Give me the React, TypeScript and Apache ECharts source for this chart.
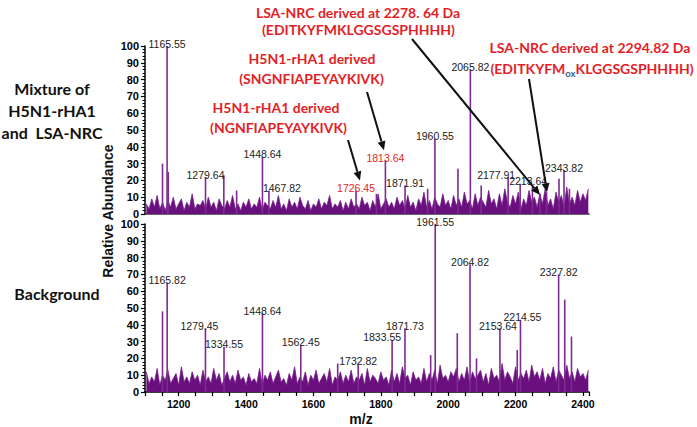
import React, { useEffect, useRef } from "react";
import * as echarts from "echarts";

// ---------- axis ranges ----------
const X_MIN = 1100;
const X_MAX = 2418;
const Y_TICKS = [0, 100];

// ---------- baseline noise (sampled every 8 m/z from 1104) ----------
const NOISE_START = 1104;
const NOISE_STEP = 8;
const noiseTop = [
  6, 3, 9, 4, 11, 3, 7, 2, 8, 4, 10, 3, 6, 9, 2, 7, 4, 12, 3, 6, 5, 8, 3, 10, 4, 7, 2, 9, 5, 3, 8, 4, 11, 3, 6, 2, 7, 4,
  9, 3, 6, 4, 10, 2, 7, 5, 3, 8, 4, 11, 3, 6, 2, 9, 4, 7, 3, 10, 5, 3, 8, 2, 6, 4, 9, 3, 7, 5, 11, 3, 6, 4, 8, 2, 7, 3,
  9, 4, 6, 3, 10, 5, 7, 2, 8, 4, 12, 3, 6, 9, 4, 7, 3, 10, 5, 8, 3, 11, 4, 7, 2, 9, 5, 13, 4, 8, 3, 10, 6, 4, 12, 5, 8, 3,
  11, 5, 9, 4, 13, 6, 8, 3, 12, 5, 10, 7, 4, 14, 6, 9, 3, 12, 5, 15, 7, 4, 11, 6, 13, 3, 9, 5, 14, 7, 10, 4, 12, 6, 15, 5,
  9, 3, 13, 7, 11, 4, 16, 6, 10, 5, 14, 7, 12, 8, 15,
];
const noiseBottom = [
  12, 5, 9, 6, 14, 4, 10, 7, 13, 5, 8, 11, 4, 15, 6, 9, 5, 12, 7, 10, 4, 13, 6, 9, 5, 14, 7, 11, 4, 8, 12, 6, 10, 5, 13, 7, 9, 4,
  11, 6, 8, 5, 14, 4, 10, 7, 12, 5, 9, 13, 6, 8, 4, 11, 7, 15, 5, 9, 6, 12, 4, 10, 7, 13, 5, 8, 11, 6, 14, 4, 9, 7, 12, 5, 10, 6,
  13, 5, 9, 7, 11, 4, 14, 6, 10, 8, 5, 12, 7, 9, 4, 13, 6, 11, 5, 15, 8, 10, 4, 12, 7, 9, 5, 14, 6, 11, 7, 13, 5, 16, 8, 10, 6, 12,
  9, 14, 6, 11, 7, 15, 5, 12, 8, 10, 13, 6, 11, 4, 14, 8, 10, 6, 17, 7, 12, 9, 5, 15, 7, 11, 8, 13, 6, 16, 9, 12, 7, 14, 5, 11,
  8, 15, 6, 13, 10, 7, 16, 8, 12, 6, 14, 9, 11, 7, 13,
];

// ---------- peaks: mixture of H5N1-rHA1 and LSA-NRC ----------
const peaksTopMz = [1152, 1165.55, 1169, 1279.64, 1334, 1372, 1448.64, 1467.82, 1726.45, 1787, 1813.64, 1871.91, 1939, 1960.55, 2029, 2065.82, 2098, 2177.91, 2213.64, 2250, 2272, 2292, 2329, 2343.82, 2360];
const peaksTopHeight = [30, 100, 25, 22, 23, 14, 34, 14, 14, 12, 32, 17, 15, 45, 27, 86, 17, 22, 18, 16, 12, 13, 21, 26, 15];
const peaksTopLabel = ["", "1165.55", "", "1279.64", "", "", "1448.64", "1467.82", "1726.45", "", "1813.64", "1871.91", "", "1960.55", "", "2065.82", "", "2177.91", "2213.64", "", "", "", "", "2343.82", ""];

// ---------- peaks: background ----------
const peaksBottomMz = [1152, 1165.82, 1279.45, 1334.55, 1448.64, 1562.45, 1672, 1732.82, 1833.55, 1871.73, 1948, 1961.55, 2027, 2064.82, 2084, 2153.64, 2205, 2214.55, 2327.82, 2346, 2366];
const peaksBottomHeight = [48, 65, 38, 27, 47, 28, 17, 17, 31, 38, 22, 100, 35, 76, 20, 38, 25, 43, 70, 55, 33];
const peaksBottomLabel = ["", "1165.82", "1279.45", "1334.55", "1448.64", "1562.45", "", "1732.82", "1833.55", "1871.73", "", "1961.55", "", "2064.82", "", "2153.64", "", "2214.55", "2327.82", "", ""];

// label tweaks (style only)
const LABEL_DX: Record<string, number> = { "1467.82": 13, "2177.91": -12, "2213.64": 8, "1279.45": -6, "1833.55": -10, "2153.64": -2, "2214.55": 2 };
const RED_LABELS = ["1726.45", "1813.64"];

// arrow targets in the top panel (m/z, abundance)
const arrowTargets = [
  [1738, 20],
  [1809.5, 38],
  [2272.6, 11.3],
  [2293.3, 13],
];
const arrowStarts = [
  [348, 140],
  [367, 92],
  [412, 39],
  [529, 79],
];

const PURPLE_AREA = "#6a0f7e";
const PURPLE_LINE = "#761d8a";
const PURPLE_PEAK = "#7e2a92";
const RED = "#e41e26";
const LABEL_FONT = "Liberation Sans";
const NOTE_FONT = "Lato";
const NOTE_SIZE = 14;

function noiseData(arr: number[]) {
  return arr.map((v, i) => [NOISE_START + NOISE_STEP * i, v]);
}

function peakData(mz: number[], h: number[], lab: string[]) {
  return mz.map((m, i) => {
    const t = lab[i];
    if (!t) return { value: [m, h[i]], label: { show: false } };
    return {
      value: [m, h[i]],
      label: {
        show: true,
        formatter: t,
        position: "top",
        distance: 0,
        offset: [LABEL_DX[t] || 0, 3],
        color: RED_LABELS.includes(t) ? RED : "#222",
        fontSize: 10.5,
        fontFamily: LABEL_FONT,
      },
    };
  });
}

function yAxis(gridIndex: number) {
  return {
    type: "value",
    gridIndex,
    min: Y_TICKS[0],
    max: Y_TICKS[1],
    interval: 10,
    axisLine: { show: true, lineStyle: { color: "#000", width: 1.5 } },
    axisTick: { show: true, length: 4, lineStyle: { color: "#000", width: 1.2 } },
    minorTick: { show: true, splitNumber: 5, length: 2.5, lineStyle: { color: "#000", width: 1 } },
    axisLabel: { color: "#000", fontWeight: "bold", fontSize: 11, fontFamily: LABEL_FONT, margin: 6 },
    splitLine: { show: false },
  };
}

function xAxis(gridIndex: number, labels: boolean) {
  return {
    type: "value",
    gridIndex,
    min: X_MIN,
    max: X_MAX,
    interval: 100,
    axisLine: { show: true, onZero: false, lineStyle: { color: labels ? "#000" : "#333", width: 1.5 } },
    axisTick: { show: labels, length: 4, lineStyle: { color: "#000", width: 1.2 } },
    minorTick: { show: labels, splitNumber: 2, length: 4, lineStyle: { color: "#000", width: 1.2 } },
    axisLabel: {
      show: labels,
      showMaxLabel: false,
      color: "#000",
      fontWeight: "bold",
      fontSize: 10.5,
      fontFamily: LABEL_FONT,
      margin: 6,
      formatter: (v: number) => (v % 200 === 0 ? String(v) : ""),
    },
    splitLine: { show: false },
  };
}

function arrowEls(x1: number, y1: number, x2: number, y2: number) {
  const dx = x2 - x1;
  const dy = y2 - y1;
  const L = Math.hypot(dx, dy);
  const ux = dx / L;
  const uy = dy / L;
  const hl = 9;
  const hw = 4;
  const bx = x2 - ux * hl;
  const by = y2 - uy * hl;
  return [
    { type: "line", shape: { x1, y1, x2: bx, y2: by }, style: { stroke: "#111", lineWidth: 2 }, z: 100 },
    {
      type: "polygon",
      shape: { points: [[x2, y2], [bx - uy * hw, by + ux * hw], [bx + uy * hw, by - ux * hw]] },
      style: { fill: "#111" },
      z: 100,
    },
  ];
}

function txt(text: string, x: number, y: number, size: number, fill: string, family = NOTE_FONT, extra: any = {}) {
  return {
    type: "text",
    x,
    y,
    z: 100,
    ...extra,
    style: {
      text,
      fill,
      fontFamily: family,
      fontWeight: "bold",
      fontSize: size,
      align: "center",
      verticalAlign: "middle",
      ...(extra.style || {}),
    },
  };
}

export default function App() {
  const ref = useRef<HTMLDivElement>(null);
  useEffect(() => {
    const chart = echarts.init(ref.current!, null, { renderer: "svg" });
    chart.setOption({
      animation: false,
      backgroundColor: "#fff",
      grid: [
        { left: 145, top: 46, width: 444, height: 168 },
        { left: 145, top: 224, width: 444, height: 168 },
      ],
      xAxis: [xAxis(0, false), xAxis(1, true)],
      yAxis: [yAxis(0), yAxis(1)],
      series: [
        {
          type: "line",
          xAxisIndex: 0,
          yAxisIndex: 0,
          data: noiseData(noiseTop),
          showSymbol: false,
          lineStyle: { color: PURPLE_LINE, width: 0.8 },
          areaStyle: { color: PURPLE_AREA, opacity: 1 },
          z: 2,
        },
        {
          type: "bar",
          xAxisIndex: 0,
          yAxisIndex: 0,
          barWidth: 1.6,
          itemStyle: { color: PURPLE_PEAK },
          data: peakData(peaksTopMz, peaksTopHeight, peaksTopLabel),
          z: 3,
        },
        {
          type: "line",
          xAxisIndex: 1,
          yAxisIndex: 1,
          data: noiseData(noiseBottom),
          showSymbol: false,
          lineStyle: { color: PURPLE_LINE, width: 0.8 },
          areaStyle: { color: PURPLE_AREA, opacity: 1 },
          z: 2,
        },
        {
          type: "bar",
          xAxisIndex: 1,
          yAxisIndex: 1,
          barWidth: 1.6,
          itemStyle: { color: PURPLE_PEAK },
          data: peakData(peaksBottomMz, peaksBottomHeight, peaksBottomLabel),
          z: 3,
        },
      ],
    });

    const els: any[] = [];
    arrowTargets.forEach((t, i) => {
      const p = chart.convertToPixel({ gridIndex: 0 }, t) as number[];
      els.push(...arrowEls(arrowStarts[i][0], arrowStarts[i][1], p[0], p[1]));
    });
    els.push(
      txt("Mixture of", 52, 88, 16, "#111"),
      txt("H5N1-rHA1", 52, 110, 16, "#111"),
      txt("and  LSA-NRC", 52, 132, 16, "#111"),
      txt("Background", 57, 293, 16, "#111"),
      txt("Relative Abundance", 108, 211, 14, "#111", LABEL_FONT, { rotation: Math.PI / 2 }),
      txt("m/z", 361, 419, 14, "#111", LABEL_FONT),
      txt("LSA-NRC derived at 2278. 64 Da", 358, 12, NOTE_SIZE, RED),
      txt("(EDITKYFMKLGGSGSPHHHH)", 358.5, 29, NOTE_SIZE, RED),
      txt("LSA-NRC derived at 2294.82 Da", 590, 47, NOTE_SIZE, RED),
      {
        type: "text",
        x: 592,
        y: 68,
        z: 100,
        style: {
          text: "{m|(EDITKYFM}{s|ox}{m|KLGGSGSPHHHH)}",
          align: "center",
          verticalAlign: "middle",
          rich: {
            m: { fill: RED, fontFamily: NOTE_FONT, fontWeight: "bold", fontSize: NOTE_SIZE, lineHeight: 20 },
            s: { fill: "#3c5a8c", fontFamily: NOTE_FONT, fontWeight: "bold", fontSize: 9.5, lineHeight: 10, verticalAlign: "bottom" },
          },
        },
      },
      txt("H5N1-rHA1 derived", 312, 58, NOTE_SIZE, RED),
      txt("(SNGNFIAPEYAYKIVK)", 311.5, 78, NOTE_SIZE, RED),
      txt("H5N1-rHA1 derived", 276, 107, NOTE_SIZE, RED),
      txt("(NGNFIAPEYAYKIVK)", 278.5, 127, NOTE_SIZE, RED)
    );
    chart.setOption({ graphic: els });
    return () => chart.dispose();
  }, []);
  return <div ref={ref} style={{ position: "fixed", left: 0, top: 0, width: 697, height: 427 }} />;
}
